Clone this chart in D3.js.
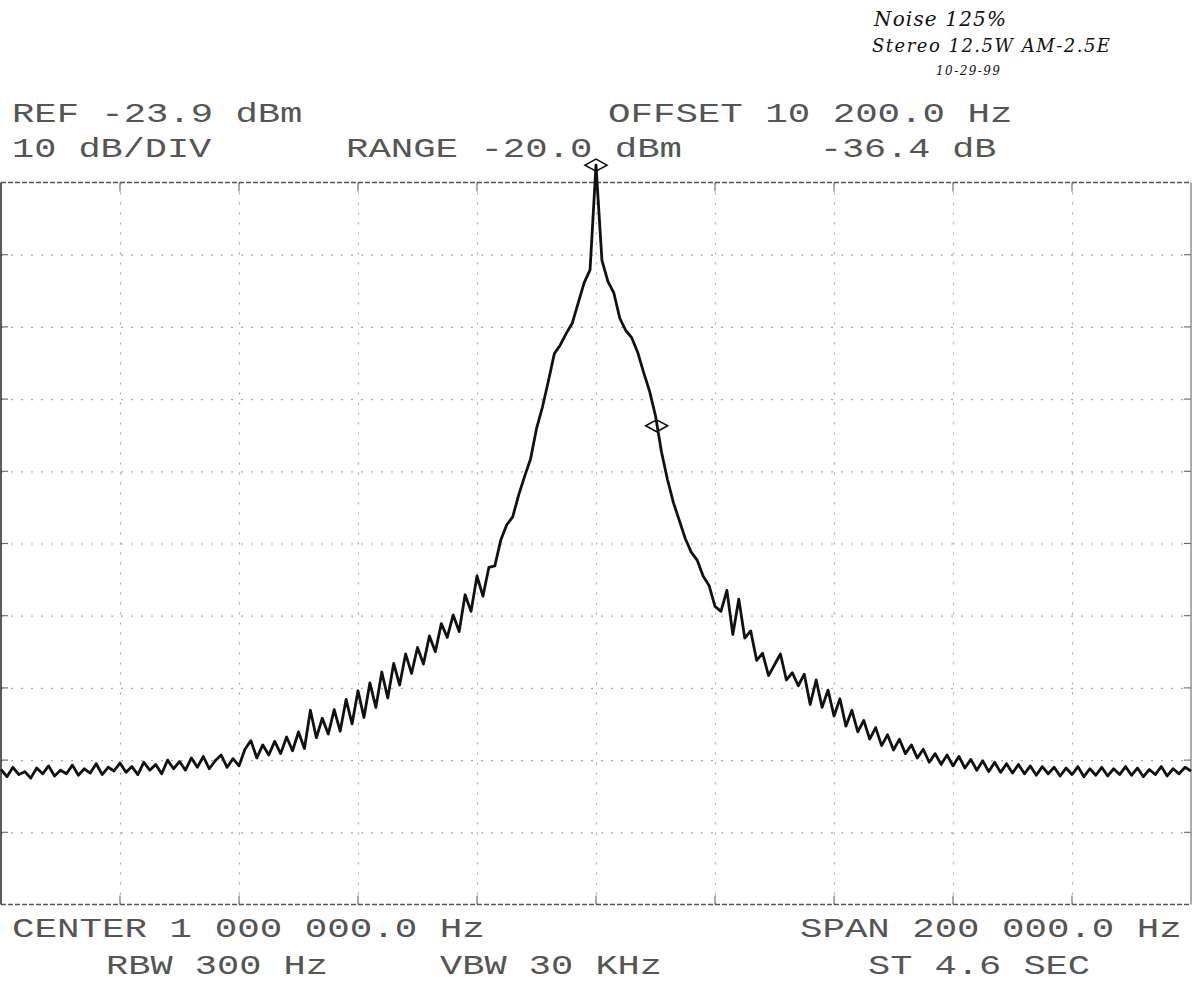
<!DOCTYPE html>
<html>
<head>
<meta charset="utf-8">
<script src="https://cdn.jsdelivr.net/npm/d3@7"></script>
<style>
  body { margin: 0; background: #fff; }
  .plotText { font-family: "Liberation Mono", "DejaVu Sans Mono", monospace; font-size: 28px; fill: #555; }
  .note { font-family: "DejaVu Serif", serif; font-style: italic; fill: #111; }
</style>
</head>
<body>
<div id="scope"></div>
<script>
// sweep: 900 kHz .. 1100 kHz, one reading per kHz
var startKHz = 900;
var stepKHz = 1;

// trace level in dBm
var levelDbm = [
  -105.2, -106.2, -104.9, -105.9, -105.5, -106.4, -105.0, -105.8, -104.7, -106.1,
  -105.3, -105.8, -104.6, -106.0, -105.1, -105.7, -104.4, -105.9, -104.9, -105.4,
  -104.3, -105.6, -104.8, -105.9, -104.2, -105.3, -104.5, -105.8, -103.9, -105.1,
  -104.1, -105.3, -103.6, -104.9, -103.4, -105.1, -104.0, -103.2, -104.9, -103.7,
  -104.7, -102.4, -101.2, -103.6, -101.8, -103.2, -101.3, -103.0, -100.7, -102.6,
  -100.0, -102.3, -97.0, -100.8, -98.1, -100.3, -96.9, -99.9, -95.5, -98.9,
  -94.3, -98.0, -93.2, -96.6, -91.7, -95.3, -90.5, -93.5, -89.2, -91.9,
  -88.3, -90.6, -86.7, -88.9, -85.0, -86.9, -83.8, -86.1, -81.0, -83.3,
  -78.4, -81.2, -77.2, -77.0, -73.4, -71.3, -70.2, -67.2, -64.6, -62.2,
  -58.0, -55.0, -51.4, -47.6, -46.4, -44.8, -43.4, -40.6, -37.8, -36.0,
  -21.5,
  -34.7, -37.6, -39.2, -42.7, -44.4, -45.4, -47.4, -50.2, -52.8,
  -56.2, -61.2, -65.0, -68.2, -70.7, -73.2, -75.1, -76.2, -78.4, -79.7,
  -82.6, -83.3, -80.4, -86.5, -81.6, -87.0, -86.0, -90.1, -89.1, -92.2,
  -90.7, -89.2, -92.8, -91.8, -93.6, -92.0, -96.2, -92.8, -96.6, -94.2,
  -97.8, -95.4, -99.2, -97.0, -100.0, -98.4, -101.0, -99.4, -101.9, -100.4,
  -102.5, -101.0, -103.0, -101.8, -103.6, -102.4, -104.2, -103.0, -104.5, -103.2,
  -104.7, -103.4, -105.0, -103.8, -105.3, -104.0, -105.5, -104.2, -105.6, -104.4,
  -105.7, -104.5, -105.8, -104.7, -106.0, -104.8, -105.8, -104.9, -106.1, -105.0,
  -105.9, -104.8, -106.2, -105.1, -106.0, -104.9, -106.1, -105.1, -105.9, -104.8,
  -106.0, -105.0, -106.2, -105.2, -105.9, -104.8, -106.1, -105.1, -105.8, -104.9,
  -105.4
];

// markers (kHz, dBm)
var markerKHz = [1000, 1010.2];
var markerDbm = [-21.5, -57.6];

var topLines = [
  ["REF -23.9 dBm", 12, 122],
  ["OFFSET 10 200.0 Hz", 608, 122],
  ["10 dB/DIV", 12, 157],
  ["RANGE -20.0 dBm", 346, 157],
  ["-36.4 dB", 820, 157]
];
var bottomLines = [
  ["CENTER 1 000 000.0 Hz", 12, 937],
  ["SPAN 200 000.0 Hz", 800, 937],
  ["RBW 300 Hz", 106, 974],
  ["VBW 30 KHz", 440, 974],
  ["ST 4.6 SEC", 868, 974]
];

var svgWidth = 1192;
var svgHeight = 987;
var plot = { left: 1, right: 1191, top: 182.5, bottom: 904.5 };
var charWidth = 22.8;

var svg = d3.select("#scope")
  .append("svg")
  .attr("width", svgWidth)
  .attr("height", svgHeight)
  .style("background", "#fff");

var x = d3.scaleLinear()
  .domain([900, 1100])
  .range([plot.left, plot.right]);

var y = d3.scaleLinear()
  .domain([-123.9, -23.9])
  .range([plot.bottom, plot.top]);

var h = plot.bottom - plot.top;
var w = plot.right - plot.left;

// dotted graticule
var xGrid = svg.append("g")
  .attr("transform", `translate(0, ${plot.bottom})`)
  .call(d3.axisBottom(x).tickValues(d3.range(920, 1100, 20)).tickSize(-h).tickFormat(""));
var yGrid = svg.append("g")
  .attr("transform", `translate(${plot.left}, 0)`)
  .call(d3.axisLeft(y).tickValues(d3.range(-113.9, -24, 10)).tickSize(-w).tickFormat(""));
[xGrid, yGrid].forEach(function(g) {
  g.select(".domain").remove();
  g.selectAll("line")
    .attr("stroke", "#a8a8a8")
    .attr("stroke-width", 1.2)
    .attr("stroke-dasharray", "2,8");
});

// short ticks on the frame
var tickG = svg.append("g").attr("stroke", "#666").attr("stroke-width", 1.1);
d3.range(920, 1100, 20).forEach(function(f) {
  tickG.append("line").attr("x1", x(f)).attr("x2", x(f)).attr("y1", plot.top).attr("y2", plot.top + 9);
  tickG.append("line").attr("x1", x(f)).attr("x2", x(f)).attr("y1", plot.bottom).attr("y2", plot.bottom - 9);
});
d3.range(-113.9, -24, 10).forEach(function(v) {
  tickG.append("line").attr("x1", plot.left).attr("x2", plot.left + 7).attr("y1", y(v)).attr("y2", y(v));
  tickG.append("line").attr("x1", plot.right).attr("x2", plot.right - 7).attr("y1", y(v)).attr("y2", y(v));
});

// frame
svg.append("line").attr("x1", plot.left).attr("x2", plot.right).attr("y1", plot.top).attr("y2", plot.top)
  .attr("stroke", "#555").attr("stroke-width", 1.3).attr("stroke-dasharray", "5,2");
svg.append("line").attr("x1", plot.left).attr("x2", plot.right).attr("y1", plot.bottom).attr("y2", plot.bottom)
  .attr("stroke", "#555").attr("stroke-width", 1.3).attr("stroke-dasharray", "5,2");
svg.append("line").attr("x1", plot.left).attr("x2", plot.left).attr("y1", plot.top).attr("y2", plot.bottom)
  .attr("stroke", "#333").attr("stroke-width", 1.6);
svg.append("line").attr("x1", plot.right).attr("x2", plot.right).attr("y1", plot.top).attr("y2", plot.bottom)
  .attr("stroke", "#666").attr("stroke-width", 1.1);

// trace
var line = d3.line()
  .x((d, i) => x(startKHz + i * stepKHz))
  .y(d => y(d));

svg.append("path")
  .datum(levelDbm)
  .attr("fill", "none")
  .attr("stroke", "#111")
  .attr("stroke-width", 2.8)
  .attr("stroke-linejoin", "round")
  .attr("d", line);

// marker diamonds
svg.selectAll(".marker")
  .data(markerKHz)
  .enter()
  .append("path")
  .attr("class", "marker")
  .attr("transform", (d, i) => `translate(${x(d)}, ${y(markerDbm[i])})`)
  .attr("d", "M-11,0 L0,-6 L11,0 L0,6 Z")
  .attr("fill", "none")
  .attr("stroke", "#111")
  .attr("stroke-width", 1.6);

// plotter annotations, stretched to the plotter's wide glyphs
svg.selectAll(".plotText")
  .data(topLines.concat(bottomLines))
  .enter()
  .append("text")
  .attr("class", "plotText")
  .attr("x", d => d[1])
  .attr("y", d => d[2])
  .attr("textLength", d => d[0].length * charWidth - 6)
  .attr("lengthAdjust", "spacingAndGlyphs")
  .text(d => d[0]);

// handwritten notes
svg.append("text").attr("class", "note").attr("x", 874).attr("y", 26).attr("font-size", 20)
  .attr("textLength", 132).text("Noise   125%");
svg.append("text").attr("class", "note").attr("x", 872).attr("y", 52).attr("font-size", 18)
  .attr("textLength", 238).text("Stereo  12.5W  AM-2.5E");
svg.append("text").attr("class", "note").attr("x", 936).attr("y", 75).attr("font-size", 12)
  .attr("textLength", 64).text("10-29-99");
</script>
</body>
</html>
